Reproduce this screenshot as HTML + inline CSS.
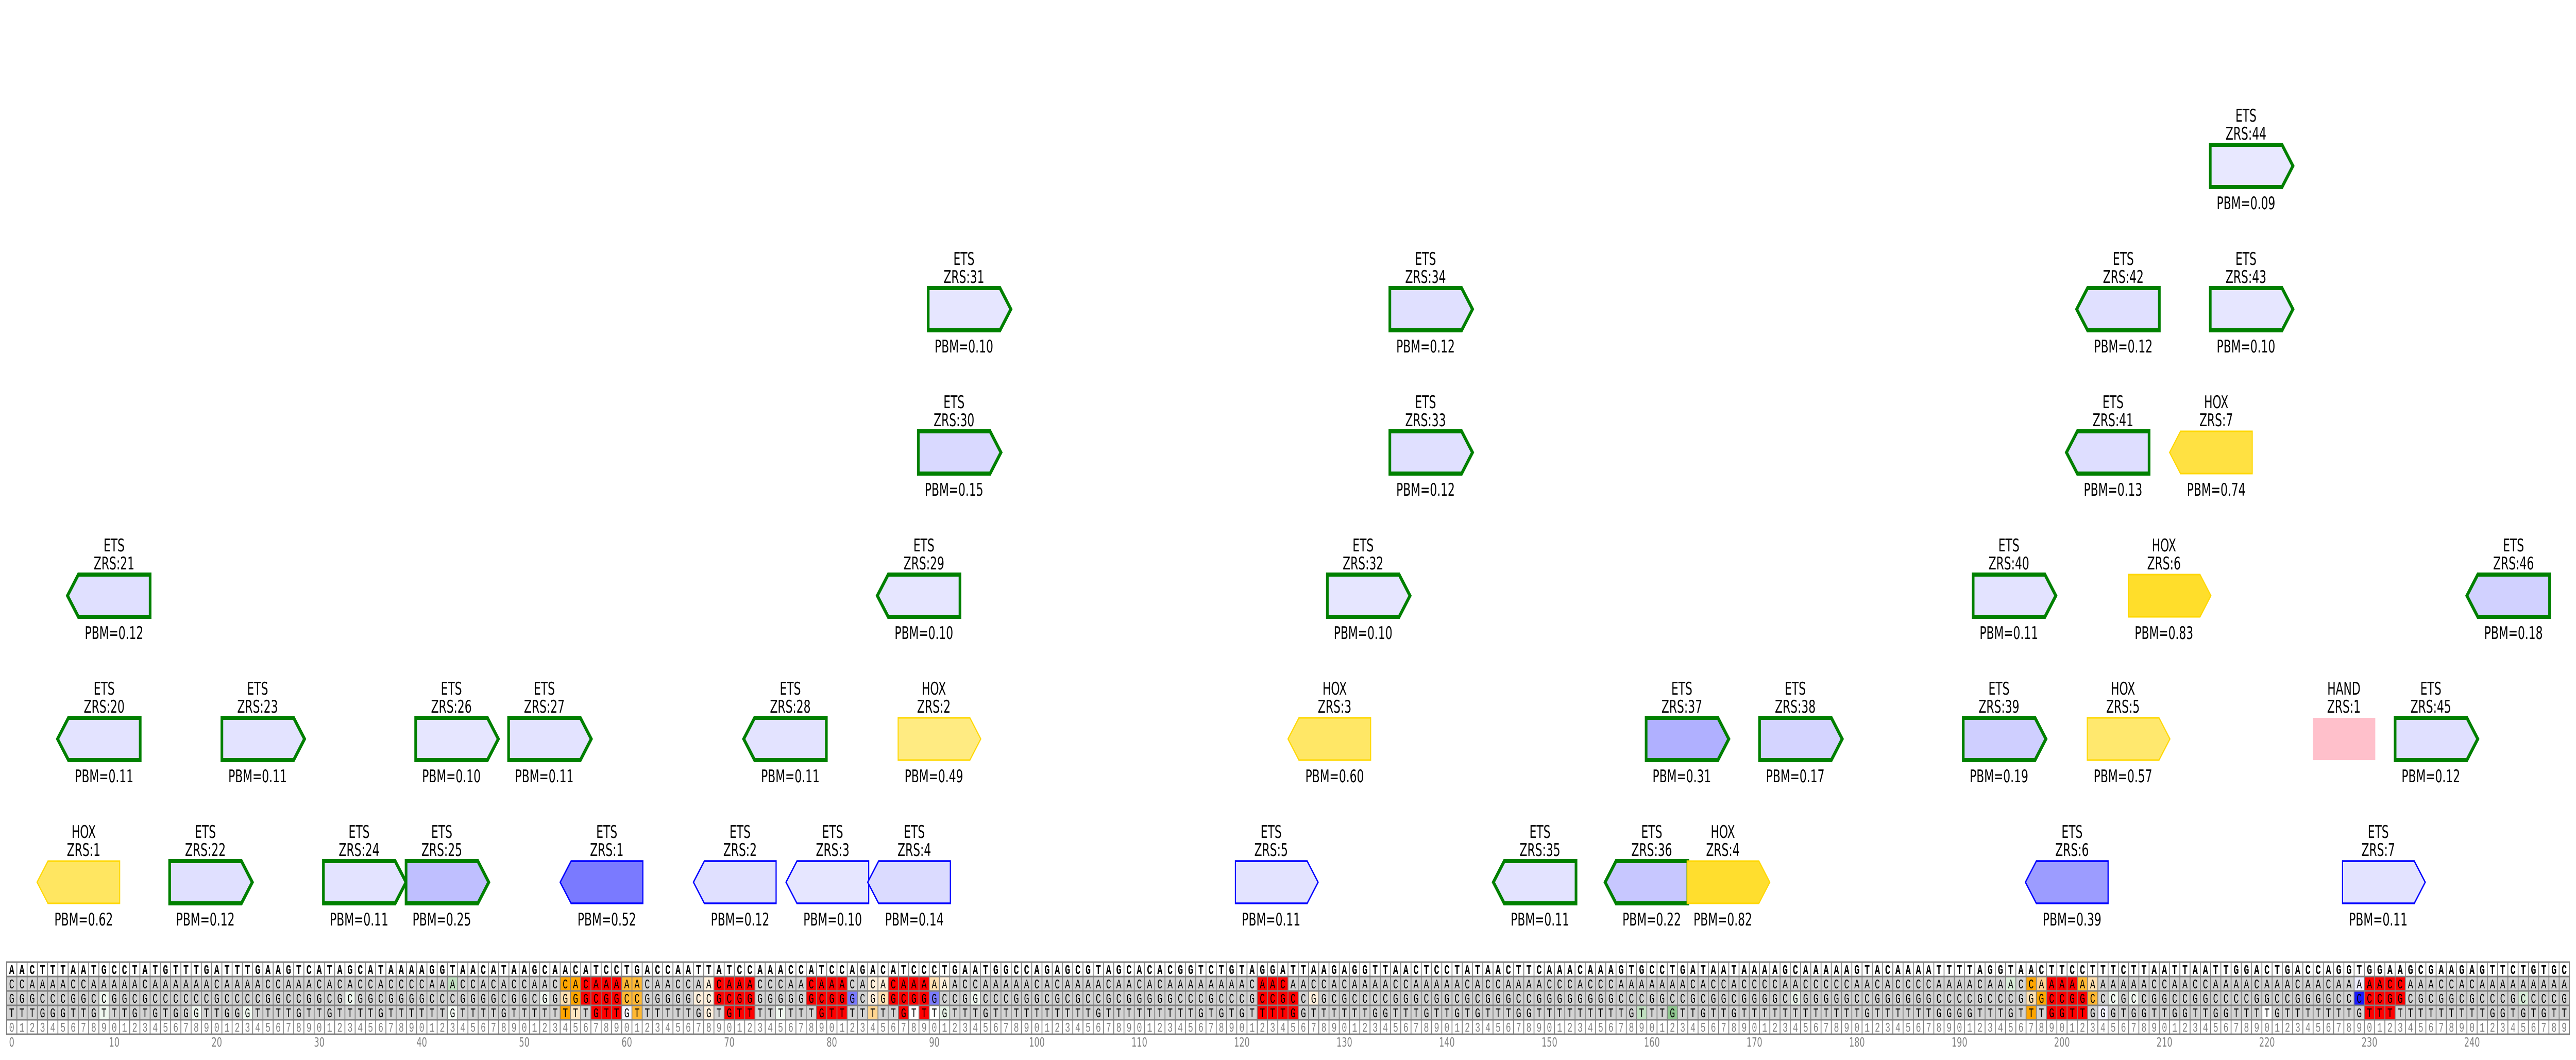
<!DOCTYPE html>
<html><head><meta charset="utf-8"><style>
html,body{margin:0;padding:0;background:#fff;width:100%;height:100%;overflow:hidden;}
svg{display:block;width:100vw;height:100vh;}
.l{font-family:"DejaVu Sans","Liberation Sans",sans-serif;font-size:34px;text-anchor:middle;fill:#000;}
.s text{font-family:"Liberation Mono","DejaVu Sans Mono",monospace;font-size:26px;letter-spacing:15.4px;}
.ax{font-family:"DejaVu Sans","Liberation Sans",sans-serif;font-size:25px;fill:#808080;text-anchor:middle;}
.g{stroke:#008000;stroke-width:8;stroke-linejoin:miter;}
.b{stroke:#0000ff;stroke-width:3.5;}
.h{stroke:#ffd700;stroke-width:3;}
</style></head><body>
<svg viewBox="0 0 7790 2057" preserveAspectRatio="none" xmlns="http://www.w3.org/2000/svg" overflow="hidden">
<defs>
<pattern id="v" x="18.75" y="0" width="31" height="2057" patternUnits="userSpaceOnUse"><rect x="0" y="0" width="2.5" height="2057" fill="#808080"/></pattern>
</defs>
<rect width="7790" height="2057" fill="#fff"/>

<path class="h" fill="rgb(255,230,97)" d="M112 1712 l33 -41 h217 v82 h-217 z"/>
<text class="l" x="253" y="1626">HOX</text><text class="l" x="253" y="1661">ZRS:1</text><text class="l" x="253" y="1796">PBM=0.62</text>
<path class="g" fill="rgb(224,224,255)" d="M513 1671 h217 l33 41 l-33 41 h-217 z"/>
<text class="l" x="621" y="1626">ETS</text><text class="l" x="621" y="1661">ZRS:22</text><text class="l" x="621" y="1796">PBM=0.12</text>
<path class="g" fill="rgb(227,227,255)" d="M978 1671 h217 l33 41 l-33 41 h-217 z"/>
<text class="l" x="1086" y="1626">ETS</text><text class="l" x="1086" y="1661">ZRS:24</text><text class="l" x="1086" y="1796">PBM=0.11</text>
<path class="g" fill="rgb(191,191,255)" d="M1228 1671 h217 l33 41 l-33 41 h-217 z"/>
<text class="l" x="1336" y="1626">ETS</text><text class="l" x="1336" y="1661">ZRS:25</text><text class="l" x="1336" y="1796">PBM=0.25</text>
<path class="b" fill="rgb(122,122,255)" d="M1694 1712 l33 -41 h217 v82 h-217 z"/>
<text class="l" x="1835" y="1626">ETS</text><text class="l" x="1835" y="1661">ZRS:1</text><text class="l" x="1835" y="1796">PBM=0.52</text>
<path class="b" fill="rgb(224,224,255)" d="M2097 1712 l33 -41 h217 v82 h-217 z"/>
<text class="l" x="2238" y="1626">ETS</text><text class="l" x="2238" y="1661">ZRS:2</text><text class="l" x="2238" y="1796">PBM=0.12</text>
<path class="b" fill="rgb(230,230,255)" d="M2377 1712 l33 -41 h217 v82 h-217 z"/>
<text class="l" x="2518" y="1626">ETS</text><text class="l" x="2518" y="1661">ZRS:3</text><text class="l" x="2518" y="1796">PBM=0.10</text>
<path class="b" fill="rgb(219,219,255)" d="M2624 1712 l33 -41 h217 v82 h-217 z"/>
<text class="l" x="2765" y="1626">ETS</text><text class="l" x="2765" y="1661">ZRS:4</text><text class="l" x="2765" y="1796">PBM=0.14</text>
<path class="b" fill="rgb(227,227,255)" d="M3736 1671 h217 l33 41 l-33 41 h-217 z"/>
<text class="l" x="3844" y="1626">ETS</text><text class="l" x="3844" y="1661">ZRS:5</text><text class="l" x="3844" y="1796">PBM=0.11</text>
<path class="g" fill="rgb(227,227,255)" d="M4516 1712 l33 -41 h217 v82 h-217 z"/>
<text class="l" x="4657" y="1626">ETS</text><text class="l" x="4657" y="1661">ZRS:35</text><text class="l" x="4657" y="1796">PBM=0.11</text>
<path class="g" fill="rgb(199,199,255)" d="M4854 1712 l33 -41 h217 v82 h-217 z"/>
<text class="l" x="4995" y="1626">ETS</text><text class="l" x="4995" y="1661">ZRS:36</text><text class="l" x="4995" y="1796">PBM=0.22</text>
<path class="h" fill="rgb(255,222,46)" d="M5102 1671 h217 l33 41 l-33 41 h-217 z"/>
<text class="l" x="5210" y="1626">HOX</text><text class="l" x="5210" y="1661">ZRS:4</text><text class="l" x="5210" y="1796">PBM=0.82</text>
<path class="b" fill="rgb(156,156,255)" d="M6125 1712 l33 -41 h217 v82 h-217 z"/>
<text class="l" x="6266" y="1626">ETS</text><text class="l" x="6266" y="1661">ZRS:6</text><text class="l" x="6266" y="1796">PBM=0.39</text>
<path class="b" fill="rgb(227,227,255)" d="M7084 1671 h217 l33 41 l-33 41 h-217 z"/>
<text class="l" x="7192" y="1626">ETS</text><text class="l" x="7192" y="1661">ZRS:7</text><text class="l" x="7192" y="1796">PBM=0.11</text>

<path class="g" fill="rgb(227,227,255)" d="M174 1434 l33 -41 h217 v82 h-217 z"/>
<text class="l" x="315" y="1348">ETS</text><text class="l" x="315" y="1383">ZRS:20</text><text class="l" x="315" y="1518">PBM=0.11</text>
<path class="g" fill="rgb(227,227,255)" d="M671 1393 h217 l33 41 l-33 41 h-217 z"/>
<text class="l" x="779" y="1348">ETS</text><text class="l" x="779" y="1383">ZRS:23</text><text class="l" x="779" y="1518">PBM=0.11</text>
<path class="g" fill="rgb(230,230,255)" d="M1257 1393 h217 l33 41 l-33 41 h-217 z"/>
<text class="l" x="1365" y="1348">ETS</text><text class="l" x="1365" y="1383">ZRS:26</text><text class="l" x="1365" y="1518">PBM=0.10</text>
<path class="g" fill="rgb(227,227,255)" d="M1538 1393 h217 l33 41 l-33 41 h-217 z"/>
<text class="l" x="1646" y="1348">ETS</text><text class="l" x="1646" y="1383">ZRS:27</text><text class="l" x="1646" y="1518">PBM=0.11</text>
<path class="g" fill="rgb(227,227,255)" d="M2249 1434 l33 -41 h217 v82 h-217 z"/>
<text class="l" x="2390" y="1348">ETS</text><text class="l" x="2390" y="1383">ZRS:28</text><text class="l" x="2390" y="1518">PBM=0.11</text>
<path class="h" fill="rgb(255,235,130)" d="M2716 1393 h217 l33 41 l-33 41 h-217 z"/>
<text class="l" x="2824" y="1348">HOX</text><text class="l" x="2824" y="1383">ZRS:2</text><text class="l" x="2824" y="1518">PBM=0.49</text>
<path class="h" fill="rgb(255,231,102)" d="M3895 1434 l33 -41 h217 v82 h-217 z"/>
<text class="l" x="4036" y="1348">HOX</text><text class="l" x="4036" y="1383">ZRS:3</text><text class="l" x="4036" y="1518">PBM=0.60</text>
<path class="g" fill="rgb(176,176,255)" d="M4978 1393 h217 l33 41 l-33 41 h-217 z"/>
<text class="l" x="5086" y="1348">ETS</text><text class="l" x="5086" y="1383">ZRS:37</text><text class="l" x="5086" y="1518">PBM=0.31</text>
<path class="g" fill="rgb(212,212,255)" d="M5321 1393 h217 l33 41 l-33 41 h-217 z"/>
<text class="l" x="5429" y="1348">ETS</text><text class="l" x="5429" y="1383">ZRS:38</text><text class="l" x="5429" y="1518">PBM=0.17</text>
<path class="g" fill="rgb(207,207,255)" d="M5937 1393 h217 l33 41 l-33 41 h-217 z"/>
<text class="l" x="6045" y="1348">ETS</text><text class="l" x="6045" y="1383">ZRS:39</text><text class="l" x="6045" y="1518">PBM=0.19</text>
<path class="h" fill="rgb(255,232,110)" d="M6312 1393 h217 l33 41 l-33 41 h-217 z"/>
<text class="l" x="6420" y="1348">HOX</text><text class="l" x="6420" y="1383">ZRS:5</text><text class="l" x="6420" y="1518">PBM=0.57</text>
<rect x="6994" y="1393" width="189" height="82" fill="#ffc0cb"/>
<text class="l" x="7088" y="1348">HAND</text><text class="l" x="7088" y="1383">ZRS:1</text>
<path class="g" fill="rgb(224,224,255)" d="M7243 1393 h217 l33 41 l-33 41 h-217 z"/>
<text class="l" x="7351" y="1348">ETS</text><text class="l" x="7351" y="1383">ZRS:45</text><text class="l" x="7351" y="1518">PBM=0.12</text>

<path class="g" fill="rgb(224,224,255)" d="M204 1156 l33 -41 h217 v82 h-217 z"/>
<text class="l" x="345" y="1070">ETS</text><text class="l" x="345" y="1105">ZRS:21</text><text class="l" x="345" y="1240">PBM=0.12</text>
<path class="g" fill="rgb(230,230,255)" d="M2653 1156 l33 -41 h217 v82 h-217 z"/>
<text class="l" x="2794" y="1070">ETS</text><text class="l" x="2794" y="1105">ZRS:29</text><text class="l" x="2794" y="1240">PBM=0.10</text>
<path class="g" fill="rgb(230,230,255)" d="M4014 1115 h217 l33 41 l-33 41 h-217 z"/>
<text class="l" x="4122" y="1070">ETS</text><text class="l" x="4122" y="1105">ZRS:32</text><text class="l" x="4122" y="1240">PBM=0.10</text>
<path class="g" fill="rgb(227,227,255)" d="M5967 1115 h217 l33 41 l-33 41 h-217 z"/>
<text class="l" x="6075" y="1070">ETS</text><text class="l" x="6075" y="1105">ZRS:40</text><text class="l" x="6075" y="1240">PBM=0.11</text>
<path class="h" fill="rgb(255,222,43)" d="M6436 1115 h217 l33 41 l-33 41 h-217 z"/>
<text class="l" x="6544" y="1070">HOX</text><text class="l" x="6544" y="1105">ZRS:6</text><text class="l" x="6544" y="1240">PBM=0.83</text>
<path class="g" fill="rgb(209,209,255)" d="M7460 1156 l33 -41 h217 v82 h-217 z"/>
<text class="l" x="7601" y="1070">ETS</text><text class="l" x="7601" y="1105">ZRS:46</text><text class="l" x="7601" y="1240">PBM=0.18</text>

<path class="g" fill="rgb(217,217,255)" d="M2777 837 h217 l33 41 l-33 41 h-217 z"/>
<text class="l" x="2885" y="792">ETS</text><text class="l" x="2885" y="827">ZRS:30</text><text class="l" x="2885" y="962">PBM=0.15</text>
<path class="g" fill="rgb(224,224,255)" d="M4203 837 h217 l33 41 l-33 41 h-217 z"/>
<text class="l" x="4311" y="792">ETS</text><text class="l" x="4311" y="827">ZRS:33</text><text class="l" x="4311" y="962">PBM=0.12</text>
<path class="g" fill="rgb(222,222,255)" d="M6249 878 l33 -41 h217 v82 h-217 z"/>
<text class="l" x="6390" y="792">ETS</text><text class="l" x="6390" y="827">ZRS:41</text><text class="l" x="6390" y="962">PBM=0.13</text>
<path class="h" fill="rgb(255,225,66)" d="M6561 878 l33 -41 h217 v82 h-217 z"/>
<text class="l" x="6702" y="792">HOX</text><text class="l" x="6702" y="827">ZRS:7</text><text class="l" x="6702" y="962">PBM=0.74</text>

<path class="g" fill="rgb(230,230,255)" d="M2807 559 h217 l33 41 l-33 41 h-217 z"/>
<text class="l" x="2915" y="514">ETS</text><text class="l" x="2915" y="549">ZRS:31</text><text class="l" x="2915" y="684">PBM=0.10</text>
<path class="g" fill="rgb(224,224,255)" d="M4203 559 h217 l33 41 l-33 41 h-217 z"/>
<text class="l" x="4311" y="514">ETS</text><text class="l" x="4311" y="549">ZRS:34</text><text class="l" x="4311" y="684">PBM=0.12</text>
<path class="g" fill="rgb(224,224,255)" d="M6280 600 l33 -41 h217 v82 h-217 z"/>
<text class="l" x="6421" y="514">ETS</text><text class="l" x="6421" y="549">ZRS:42</text><text class="l" x="6421" y="684">PBM=0.12</text>
<path class="g" fill="rgb(230,230,255)" d="M6684 559 h217 l33 41 l-33 41 h-217 z"/>
<text class="l" x="6792" y="514">ETS</text><text class="l" x="6792" y="549">ZRS:43</text><text class="l" x="6792" y="684">PBM=0.10</text>

<path class="g" fill="rgb(232,232,255)" d="M6684 281 h217 l33 41 l-33 41 h-217 z"/>
<text class="l" x="6792" y="236">ETS</text><text class="l" x="6792" y="271">ZRS:44</text><text class="l" x="6792" y="406">PBM=0.09</text>

<rect x="20" y="1895" width="7750" height="84" fill="#d3d3d3"/>
<g>
<rect x="1353" y="1895" width="31" height="28" fill="#c0e0c0"/>
<rect x="1694" y="1895" width="62" height="28" fill="#ffa500"/>
<rect x="1756" y="1895" width="124" height="28" fill="#ff0000"/>
<rect x="1880" y="1895" width="62" height="28" fill="#ffb833"/>
<rect x="2128" y="1895" width="31" height="28" fill="#fff0dc"/>
<rect x="2159" y="1895" width="124" height="28" fill="#ff0000"/>
<rect x="2438" y="1895" width="124" height="28" fill="#ff0000"/>
<rect x="2624" y="1895" width="31" height="28" fill="#fff0dc"/>
<rect x="2655" y="1895" width="31" height="28" fill="#fff0dc"/>
<rect x="2686" y="1895" width="124" height="28" fill="#ff0000"/>
<rect x="2810" y="1895" width="31" height="28" fill="#ffe0b0"/>
<rect x="2841" y="1895" width="31" height="28" fill="#fff0dc"/>
<rect x="3802" y="1895" width="93" height="28" fill="#ff0000"/>
<rect x="6065" y="1895" width="31" height="28" fill="#d8ecd8"/>
<rect x="6127" y="1895" width="31" height="28" fill="#ffa500"/>
<rect x="6158" y="1895" width="31" height="28" fill="#ffd090"/>
<rect x="6189" y="1895" width="93" height="28" fill="#ff0000"/>
<rect x="6282" y="1895" width="31" height="28" fill="#ffb833"/>
<rect x="6313" y="1895" width="31" height="28" fill="#ffe0b0"/>
<rect x="7119" y="1895" width="31" height="28" fill="#eeeeff"/>
<rect x="7150" y="1895" width="124" height="28" fill="#ff0000"/>
<rect x="299" y="1923" width="31" height="28" fill="#f0f8f0"/>
<rect x="1043" y="1923" width="31" height="28" fill="#f0f8f0"/>
<rect x="1632" y="1923" width="31" height="28" fill="#f0f8f0"/>
<rect x="1694" y="1923" width="31" height="28" fill="#ffe0b0"/>
<rect x="1725" y="1923" width="31" height="28" fill="#ffa500"/>
<rect x="1756" y="1923" width="124" height="28" fill="#ff0000"/>
<rect x="1880" y="1923" width="62" height="28" fill="#ffb833"/>
<rect x="2097" y="1923" width="62" height="28" fill="#fff0dc"/>
<rect x="2159" y="1923" width="124" height="28" fill="#ff0000"/>
<rect x="2438" y="1923" width="124" height="28" fill="#ff0000"/>
<rect x="2562" y="1923" width="31" height="28" fill="#7b7bff"/>
<rect x="2624" y="1923" width="31" height="28" fill="#fff0dc"/>
<rect x="2655" y="1923" width="31" height="28" fill="#ffe0b0"/>
<rect x="2686" y="1923" width="124" height="28" fill="#ff0000"/>
<rect x="2810" y="1923" width="31" height="28" fill="#7b7bff"/>
<rect x="2934" y="1923" width="31" height="28" fill="#f0f8f0"/>
<rect x="3802" y="1923" width="124" height="28" fill="#ff0000"/>
<rect x="3957" y="1923" width="31" height="28" fill="#fff0dc"/>
<rect x="5414" y="1923" width="31" height="28" fill="#eaf5ea"/>
<rect x="6127" y="1923" width="31" height="28" fill="#ffe0b0"/>
<rect x="6158" y="1923" width="31" height="28" fill="#ffa500"/>
<rect x="6189" y="1923" width="124" height="28" fill="#ff0000"/>
<rect x="6313" y="1923" width="31" height="28" fill="#ffb833"/>
<rect x="6375" y="1923" width="31" height="28" fill="#f0f8f0"/>
<rect x="6437" y="1923" width="31" height="28" fill="#f0f8f0"/>
<rect x="7119" y="1923" width="31" height="28" fill="#1a1aff"/>
<rect x="7150" y="1923" width="124" height="28" fill="#ff0000"/>
<rect x="7615" y="1923" width="31" height="28" fill="#d8ecd8"/>
<rect x="299" y="1951" width="31" height="28" fill="#f0f8f0"/>
<rect x="578" y="1951" width="31" height="28" fill="#f0f8f0"/>
<rect x="733" y="1951" width="31" height="28" fill="#f0f8f0"/>
<rect x="1353" y="1951" width="31" height="28" fill="#f8fff8"/>
<rect x="1694" y="1951" width="31" height="28" fill="#ffa500"/>
<rect x="1725" y="1951" width="31" height="28" fill="#ffe4c0"/>
<rect x="1787" y="1951" width="93" height="28" fill="#ff0000"/>
<rect x="1880" y="1951" width="31" height="28" fill="#f6f6ff"/>
<rect x="1911" y="1951" width="31" height="28" fill="#ffb833"/>
<rect x="2128" y="1951" width="31" height="28" fill="#fff0dc"/>
<rect x="2190" y="1951" width="93" height="28" fill="#ff0000"/>
<rect x="2345" y="1951" width="31" height="28" fill="#f0f8f0"/>
<rect x="2469" y="1951" width="93" height="28" fill="#ff0000"/>
<rect x="2624" y="1951" width="31" height="28" fill="#ffd590"/>
<rect x="2717" y="1951" width="31" height="28" fill="#ff0000"/>
<rect x="2748" y="1951" width="31" height="28" fill="#ffffff"/>
<rect x="2779" y="1951" width="31" height="28" fill="#ff0000"/>
<rect x="2810" y="1951" width="31" height="28" fill="#ffffff"/>
<rect x="2841" y="1951" width="31" height="28" fill="#e6f2e6"/>
<rect x="3802" y="1951" width="124" height="28" fill="#ff0000"/>
<rect x="4949" y="1951" width="31" height="28" fill="#c0e0c0"/>
<rect x="5042" y="1951" width="31" height="28" fill="#90c890"/>
<rect x="6127" y="1951" width="31" height="28" fill="#ffa500"/>
<rect x="6189" y="1951" width="124" height="28" fill="#ff0000"/>
<rect x="6344" y="1951" width="31" height="28" fill="#f3f3ff"/>
<rect x="6840" y="1951" width="31" height="28" fill="#ffffff"/>
<rect x="7150" y="1951" width="93" height="28" fill="#ff0000"/>
</g>
<rect x="18.75" y="1867" width="7752" height="140" fill="url(#v)"/>
<g stroke="#808080" stroke-width="3" fill="none">
<rect x="20" y="1867" width="7750" height="140"/>
<line x1="20" y1="1895" x2="7770" y2="1895"/>
<line x1="20" y1="1923" x2="7770" y2="1923"/>
<line x1="20" y1="1951" x2="7770" y2="1951"/>
<line x1="20" y1="1979" x2="7770" y2="1979"/>
</g>

<g class="s" font-weight="bold" fill="#000">
<text x="27.7" y="1890">AACTTTAATG</text><text x="337.7" y="1890">CCTATGTTTG</text><text x="647.7" y="1890">ATTTGAAGTC</text><text x="957.7" y="1890">ATAGCATAAA</text><text x="1267.7" y="1890">AGGTAACATA</text><text x="1577.7" y="1890">AGCAACATCC</text><text x="1887.7" y="1890">TGAC</text><text x="2011.7" y="1890">CAATTATCCA</text><text x="2321.7" y="1890">AACCATCCAG</text><text x="2631.7" y="1890">ACATCCCTGA</text><text x="2941.7" y="1890">ATGGCCAGAG</text><text x="3251.7" y="1890">CGTAGCACAC</text><text x="3561.7" y="1890">GGTCTGTAGG</text><text x="3871.7" y="1890">ATTA</text><text x="3995.7" y="1890">AGAGGTTAAC</text><text x="4305.7" y="1890">TCCTATAACT</text><text x="4615.7" y="1890">TCAAACAAAG</text><text x="4925.7" y="1890">TGCCTGATAA</text><text x="5235.7" y="1890">TAAAAGCAAA</text><text x="5545.7" y="1890">AAGTACAAAA</text><text x="5855.7" y="1890">TTTTAG</text><text x="6041.7" y="1890">GTAACTTCCT</text><text x="6351.7" y="1890">TTCTTAATTA</text><text x="6661.7" y="1890">ATTGGACTGA</text><text x="6971.7" y="1890">CCAGGTGGAA</text><text x="7281.7" y="1890">GCGAAGAGTT</text><text x="7591.7" y="1890">CTGTGC</text>
</g>
<g class="s" fill="#000">
<text x="27.7" y="1918">CCAAAACCAA</text><text x="337.7" y="1918">AAACAAAAAA</text><text x="647.7" y="1918">CAAAACCAAA</text><text x="957.7" y="1918">CACACCACCC</text><text x="1267.7" y="1918">CAAACCACAC</text><text x="1577.7" y="1918">CAACCACAAA</text><text x="1887.7" y="1918">AACA</text><text x="2011.7" y="1918">ACCAACAAAC</text><text x="2321.7" y="1918">CCAACAAACA</text><text x="2631.7" y="1918">CACAAAAAAC</text><text x="2941.7" y="1918">CAAAAACACA</text><text x="3251.7" y="1918">AAACAACACA</text><text x="3561.7" y="1918">AAAAAAACAA</text><text x="3871.7" y="1918">CAAC</text><text x="3995.7" y="1918">CACAAAACCA</text><text x="4305.7" y="1918">AAAACACCAA</text><text x="4615.7" y="1918">AACCCACCCA</text><text x="4925.7" y="1918">AAAAAACACC</text><text x="5235.7" y="1918">ACCCCAACCC</text><text x="5545.7" y="1918">CCAACACCCC</text><text x="5855.7" y="1918">AAAACA</text><text x="6041.7" y="1918">AACCAAAAAA</text><text x="6351.7" y="1918">AAAAACCAAC</text><text x="6661.7" y="1918">CAAAACAAAC</text><text x="6971.7" y="1918">AACAAAAACC</text><text x="7281.7" y="1918">AAACCACAAA</text><text x="7591.7" y="1918">AAAAAA</text>
<text x="27.7" y="1946">GGGCCCGGCC</text><text x="337.7" y="1946">GGCGCCCCCC</text><text x="647.7" y="1946">GCCCCGGCCG</text><text x="957.7" y="1946">GCGCGGCGGG</text><text x="1267.7" y="1946">GCCCGGGGCG</text><text x="1577.7" y="1946">GCGGGGGCGG</text><text x="1887.7" y="1946">CCGG</text><text x="2011.7" y="1946">GGGCCGCGGG</text><text x="2321.7" y="1946">GGGGGCGGGC</text><text x="2631.7" y="1946">GGGCGGGCCG</text><text x="2941.7" y="1946">GCCCGGGCGC</text><text x="3251.7" y="1946">GCCGCGGGGG</text><text x="3561.7" y="1946">CCCGCCCGCC</text><text x="3871.7" y="1946">GCCG</text><text x="3995.7" y="1946">GCGCCCCGGG</text><text x="4305.7" y="1946">CGGCGCGGGC</text><text x="4615.7" y="1946">CGGGGGGGGC</text><text x="4925.7" y="1946">CCGGCCGCGG</text><text x="5235.7" y="1946">CGGGGCGGGG</text><text x="5545.7" y="1946">GGCCGGGGGG</text><text x="5855.7" y="1946">CCCCGC</text><text x="6041.7" y="1946">CCGGGCCGGC</text><text x="6351.7" y="1946">CCGCCGGCCG</text><text x="6661.7" y="1946">GCCCCGGCCG</text><text x="6971.7" y="1946">GGGCCCCCGG</text><text x="7281.7" y="1946">CGCGGCGCCC</text><text x="7591.7" y="1946">GCCCCG</text>
<text x="27.7" y="1974">TTTGGGTTGT</text><text x="337.7" y="1974">TTGTGTGGGT</text><text x="647.7" y="1974">TGGGTTTTGT</text><text x="957.7" y="1974">TGTTTTGTTT</text><text x="1267.7" y="1974">TTTGTTTTGT</text><text x="1577.7" y="1974">TTTTTTTGTT</text><text x="1887.7" y="1974">GTTT</text><text x="2011.7" y="1974">TTTGGTGTTT</text><text x="2321.7" y="1974">TTTTTGTTTT</text><text x="2631.7" y="1974">TTTGTTTGTT</text><text x="2941.7" y="1974">TGTTTTTTTT</text><text x="3251.7" y="1974">TTGTTTTTTT</text><text x="3561.7" y="1974">TTGTGTGTTT</text><text x="3871.7" y="1974">TGGT</text><text x="3995.7" y="1974">TTTTTGGTTT</text><text x="4305.7" y="1974">GTTGTGTTTG</text><text x="4615.7" y="1974">GTTTTTTTTT</text><text x="4925.7" y="1974">GTTTGTTGTT</text><text x="5235.7" y="1974">GTTTTTTTTT</text><text x="5545.7" y="1974">TTTGTTTTTT</text><text x="5855.7" y="1974">GGGGTT</text><text x="6041.7" y="1974">TGTTTGGTTG</text><text x="6351.7" y="1974">GGTGGTTGGT</text><text x="6661.7" y="1974">TGGTTTTGTT</text><text x="6971.7" y="1974">TTTTTGTTTT</text><text x="7281.7" y="1974">TTTTTTTTGG</text><text x="7591.7" y="1974">TGTGTT</text>
</g>
<g class="s" fill="#808080">
<text x="27.7" y="2002">0123456789</text><text x="337.7" y="2002">0123456789</text><text x="647.7" y="2002">0123456789</text><text x="957.7" y="2002">0123456789</text><text x="1267.7" y="2002">0123456789</text><text x="1577.7" y="2002">0123456789</text><text x="1887.7" y="2002">0123456789</text><text x="2197.7" y="2002">0123456789</text><text x="2507.7" y="2002">0123456789</text><text x="2817.7" y="2002">0123456789</text><text x="3127.7" y="2002">0123456789</text><text x="3437.7" y="2002">0123456789</text><text x="3747.7" y="2002">0123456789</text><text x="4057.7" y="2002">0123456789</text><text x="4367.7" y="2002">0123456789</text><text x="4677.7" y="2002">0123456789</text><text x="4987.7" y="2002">0123456789</text><text x="5297.7" y="2002">0123456789</text><text x="5607.7" y="2002">0123456789</text><text x="5917.7" y="2002">0123456789</text><text x="6227.7" y="2002">0123456789</text><text x="6537.7" y="2002">0123456789</text><text x="6847.7" y="2002">0123456789</text><text x="7157.7" y="2002">0123456789</text><text x="7467.7" y="2002">0123456789</text>
</g>
<g class="ax">
<text x="35.5" y="2031">0</text><text x="345.5" y="2031">10</text><text x="655.5" y="2031">20</text><text x="965.5" y="2031">30</text><text x="1275.5" y="2031">40</text><text x="1585.5" y="2031">50</text><text x="1895.5" y="2031">60</text><text x="2205.5" y="2031">70</text><text x="2515.5" y="2031">80</text><text x="2825.5" y="2031">90</text><text x="3135.5" y="2031">100</text><text x="3445.5" y="2031">110</text><text x="3755.5" y="2031">120</text><text x="4065.5" y="2031">130</text><text x="4375.5" y="2031">140</text><text x="4685.5" y="2031">150</text><text x="4995.5" y="2031">160</text><text x="5305.5" y="2031">170</text><text x="5615.5" y="2031">180</text><text x="5925.5" y="2031">190</text><text x="6235.5" y="2031">200</text><text x="6545.5" y="2031">210</text><text x="6855.5" y="2031">220</text><text x="7165.5" y="2031">230</text><text x="7475.5" y="2031">240</text>
</g>
</svg>
</body></html>
